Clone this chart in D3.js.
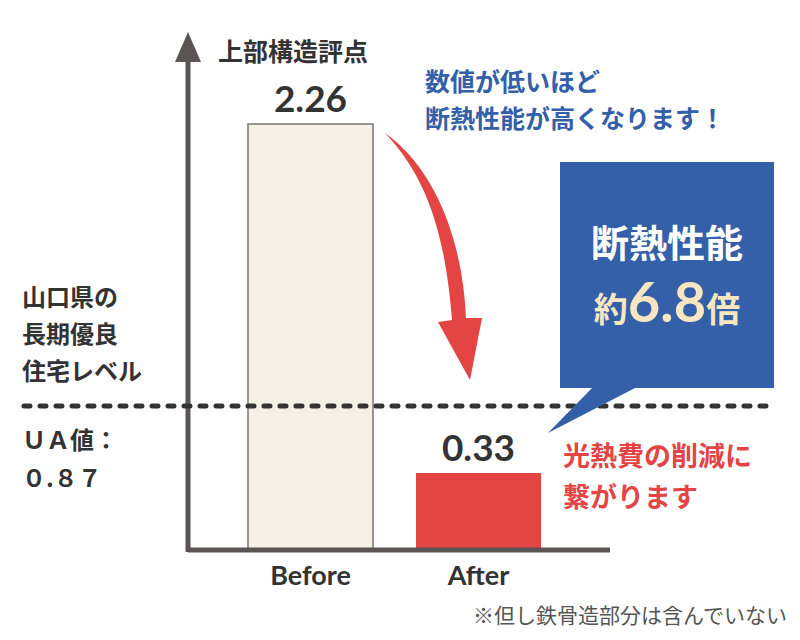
<!DOCTYPE html>
<html><head><meta charset="utf-8">
<script src="https://cdn.jsdelivr.net/npm/d3@7"></script>
<style>body{margin:0;background:#fff}text{font-family:"Noto Sans CJK JP","Noto Sans",sans-serif;font-weight:bold}</style>
</head><body>
<script>
var categories = ['Before', 'After'],
	values = [2.26, 0.33],
	valueLabels = ['2.26', '0.33'],
	barColors = ['#f5f1e6', '#e34444'];

var svg = d3.select('body').append('svg').attr('width', 800).attr('height', 640);

var x = d3.scaleBand().domain(categories).range([248, 541]).paddingInner(0.256).paddingOuter(0);
var y = d3.scalePow().exponent(0.889).domain([0, 2.26]).range([550, 124]);

// bars
svg.selectAll('rect.bar').data(values).enter().append('rect')
	.attr('x', function(d, i) { return x(categories[i]); })
	.attr('y', function(d) { return y(d); })
	.attr('width', x.bandwidth())
	.attr('height', function(d) { return 550 - y(d); })
	.attr('fill', function(d, i) { return barColors[i]; })
	.attr('stroke', function(d, i) { return i === 0 ? '#777' : 'none'; })
	.attr('stroke-width', 1.5);

svg.selectAll('text.val').data(values).enter().append('text')
	.attr('x', function(d, i) { return x(categories[i]) + x.bandwidth() / 2; })
	.attr('y', function(d) { return y(d) - 12; })
	.attr('text-anchor', 'middle').attr('font-size', 37).attr('fill', '#333')
	.style('font-family', 'Lato, sans-serif').style('font-weight', 'bold')
	.text(function(d, i) { return valueLabels[i]; });

svg.selectAll('text.cat').data(categories).enter().append('text')
	.attr('x', function(d) { return x(d) + x.bandwidth() / 2; })
	.attr('y', 585).attr('text-anchor', 'middle').attr('font-size', 27).attr('fill', '#333')
	.style('font-family', 'Lato, sans-serif')
	.text(function(d) { return d; });

// axes
svg.append('line').attr('x1', 188).attr('y1', 550).attr('x2', 610).attr('y2', 550).attr('stroke', '#5a5552').attr('stroke-width', 5);
svg.append('line').attr('x1', 188).attr('y1', 552).attr('x2', 188).attr('y2', 60).attr('stroke', '#5a5552').attr('stroke-width', 5);
svg.append('path').attr('d', 'M188,32 L175,62 L201,62 Z').attr('fill', '#5a5552');
svg.append('text').attr('x', 218).attr('y', 61).attr('font-size', 25).attr('fill', '#333').text('上部構造評点');

// dashed reference
svg.append('line').attr('x1', 24).attr('x2', 772).attr('y1', 406).attr('y2', 406)
	.attr('stroke', '#333').attr('stroke-width', 5).attr('stroke-dasharray', '6,10').attr('stroke-linecap', 'round');

var left = svg.append('g');
['山口県の', '長期優良', '住宅レベル'].forEach(function(t, i) {
	left.append('text').attr('x', 22).attr('y', 306 + i * 37).attr('font-size', 24).attr('fill', '#333').text(t);
});
['ＵＡ値：', '０.８７'].forEach(function(t, i) {
	left.append('text').attr('x', 22).attr('y', 449 + i * 38).attr('font-size', 24).attr('fill', '#333').text(t);
});

// red arrow
svg.append('path')
	.attr('d', 'M385,133 C425,175 445,230 452,320 L438,322 L470,380 L482,318 L466,318 C462,230 430,165 385,133 Z')
	.attr('fill', '#e34444');

// blue annotation
svg.append('text').attr('x', 425).attr('y', 91).attr('font-size', 25).attr('fill', '#3360a8').text('数値が低いほど');
svg.append('text').attr('x', 425).attr('y', 128).attr('font-size', 25).attr('fill', '#3360a8').text('断熱性能が高くなります！');
svg.append('path').attr('d', 'M560,162 L774,162 L774,388 L635,388 L548,433 L592,388 L560,388 Z').attr('fill', '#3360a8');
svg.append('text').attr('x', 667).attr('y', 257).attr('text-anchor', 'middle').attr('font-size', 38).attr('fill', '#fff').text('断熱性能');
var t2 = svg.append('text').attr('x', 667).attr('y', 322).attr('text-anchor', 'middle').attr('fill', '#f7e6c0');
t2.append('tspan').attr('font-size', 34).text('約');
t2.append('tspan').attr('font-size', 56).style('font-family', 'Lato, sans-serif').text('6.8');
t2.append('tspan').attr('font-size', 34).text('倍');

svg.append('text').attr('x', 563).attr('y', 466).attr('font-size', 27).attr('fill', '#e34444').text('光熱費の削減に');
svg.append('text').attr('x', 563).attr('y', 507).attr('font-size', 27).attr('fill', '#e34444').text('繋がります');

svg.append('text').attr('x', 787).attr('y', 623).attr('text-anchor', 'end').attr('font-size', 21).attr('fill', '#555')
	.style('font-weight', 'normal').text('※但し鉄骨造部分は含んでいない');
</script>
</body></html>
